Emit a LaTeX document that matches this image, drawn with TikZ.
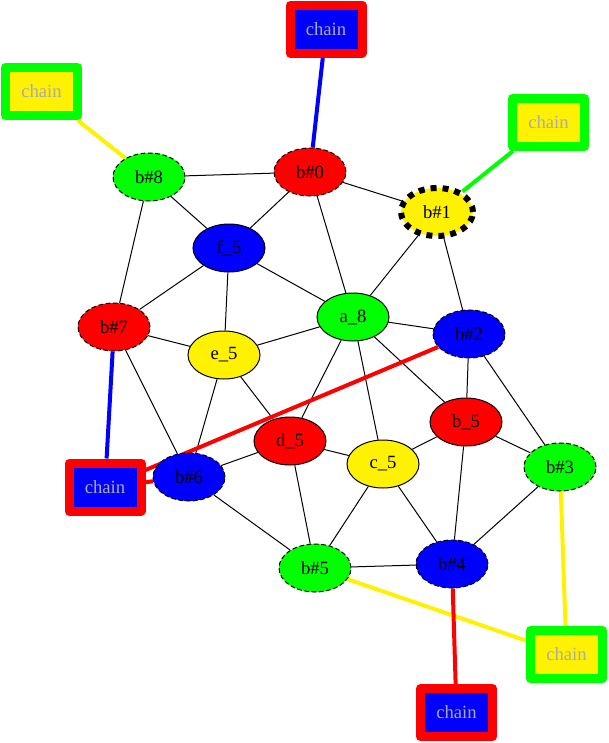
\documentclass[tikz,border=0pt]{standalone}
\usepackage{fontspec}
\setmainfont{Liberation Serif}
\usetikzlibrary{shapes.geometric,backgrounds}
\definecolor{szurke}{RGB}{170,170,170}
\tikzset{
  csp/.style={ellipse,draw,line width=0.75pt,minimum width=54pt,minimum height=36pt,inner sep=0pt},
  bcsp/.style={csp,dash pattern=on 3.5pt off 2pt},
  lanc/.style={rectangle,draw,line width=6.75pt,line join=round,minimum width=54pt,
    minimum height=36pt,inner sep=0pt,text=szurke},
  el/.style={line width=0.75pt},
  lel/.style={line width=3pt},
}

\begin{document}
\begin{tikzpicture}[x=0.75pt,y=-0.75pt,font=\fontsize{14}{16}\selectfont]
  \useasboundingbox (0,0) rectangle (608,743);
  \node[bcsp,fill=red] (b0) at (310,172) {b\#0};
  \node[csp,fill=yellow,line width=4.5pt,dash pattern=on 4.5pt off 4.5pt] (b1) at (437,212) {b\#1};
  \node[bcsp,fill=blue] (b2) at (469,334) {b\#2};
  \node[bcsp,fill=green] (b3) at (560,467) {b\#3};
  \node[bcsp,fill=blue] (b4) at (452,564) {b\#4};
  \node[bcsp,fill=green] (b5) at (315,568) {b\#5};
  \node[bcsp,fill=blue] (b6) at (189,477) {b\#6};
  \node[bcsp,fill=red] (b7) at (114,327) {b\#7};
  \node[bcsp,fill=green] (b8) at (149,177) {b\#8};
  \node[csp,fill=green] (a) at (353,317) {a\_8};
  \node[csp,fill=red] (b) at (466,422) {b\_5};
  \node[csp,fill=yellow] (c) at (383,464) {c\_5};
  \node[csp,fill=red] (d) at (290,441) {d\_5};
  \node[csp,fill=yellow] (e) at (224,355) {e\_5};
  \node[csp,fill=blue] (f) at (229,248) {f\_5};
  \node[lanc,draw=red,fill=blue] (ch0) at (326,29) {chain};
  \node[lanc,draw=green,fill=yellow] (ch8) at (41.5,91.5) {chain};
  \node[lanc,draw=green,fill=yellow] (ch1) at (548.5,122.5) {chain};
  \node[lanc,draw=red,fill=blue] (ch7) at (105,487) {chain};
  \node[lanc,draw=green,fill=yellow] (ch3) at (566.5,654.5) {chain};
  \node[lanc,draw=red,fill=blue] (ch4) at (456.5,712.5) {chain};
  \begin{scope}[on background layer]
    \draw[el] (b8) -- (b0); \draw[el] (b8) -- (f); \draw[el] (b8) -- (b7);
    \draw[el] (b0) -- (f); \draw[el] (b0) -- (b1); \draw[el] (b0) -- (a);
    \draw[el] (b1) -- (a); \draw[el] (b1) -- (b2);
    \draw[el] (f) -- (b7); \draw[el] (f) -- (e); \draw[el] (f) -- (a);
    \draw[el] (b7) -- (e); \draw[el] (b7) -- (b6);
    \draw[el] (e) -- (a); \draw[el] (e) -- (b6); \draw[el] (e) -- (d);
    \draw[el] (a) -- (b2); \draw[el] (a) -- (d); \draw[el] (a) -- (c); \draw[el] (a) -- (b);
    \draw[el] (b2) -- (b); \draw[el] (b2) -- (b3);
    \draw[el] (b) -- (c); \draw[el] (b) -- (b3); \draw[el] (b) -- (b4);
    \draw[el] (d) -- (b6); \draw[el] (d) -- (c); \draw[el] (d) -- (b5);
    \draw[el] (c) -- (b5); \draw[el] (c) -- (b4);
    \draw[el] (b6) -- (b5); \draw[el] (b5) -- (b4); \draw[el] (b4) -- (b3);
    \draw[lel,blue] (ch0) -- (b0);
    \draw[lel,yellow] (ch8) -- (b8);
    \draw[lel,green] (ch1) -- (b1);
    \draw[lel,blue] (ch7) -- (b7);
    \draw[lel,red] (ch7) -- (b2);
    \draw[lel,red] (ch7) -- (b6);
    \draw[lel,yellow] (ch3) -- (b3);
    \draw[lel,yellow] (ch3) -- (b5);
    \draw[lel,red] (ch4) -- (b4);
  \end{scope}
\end{tikzpicture}
\end{document}
